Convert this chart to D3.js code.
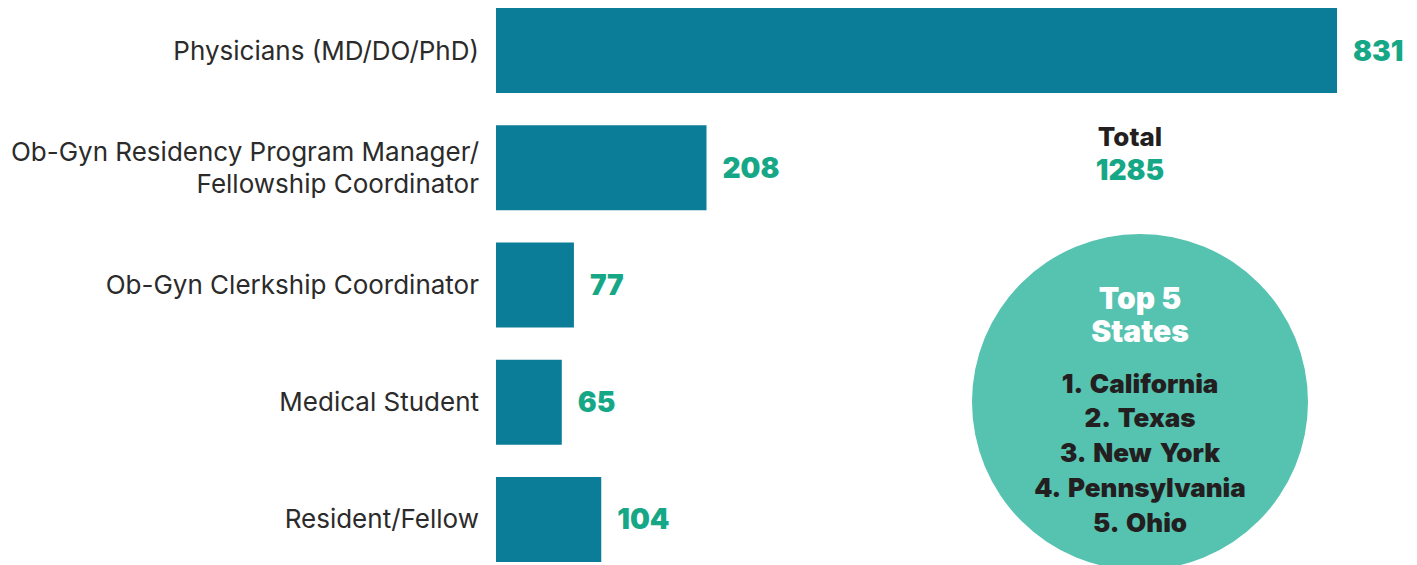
<!DOCTYPE html>
<html>
<head>
<meta charset="utf-8">
<script src="https://cdn.jsdelivr.net/npm/d3@7"></script>
<style>
  body { margin: 0; background: #fff; }
  svg { display: block; font-family: Inter, "Noto Sans", sans-serif; }
</style>
</head>
<body>
<div id="chart"></div>
<script>
// roles and counts
const roles = [
  ["Physicians (MD/DO/PhD)"],
  ["Ob-Gyn Residency Program Manager/", "Fellowship Coordinator"],
  ["Ob-Gyn Clerkship Coordinator"],
  ["Medical Student"],
  ["Resident/Fellow"]
];
const counts = [831, 208, 77, 65, 104];
const total = 1285;
const topStates = ["1. California", "2. Texas", "3. New York", "4. Pennsylvania", "5. Ohio"];

const width = 1417, height = 565;
const barColor = "#0c7d99", valueColor = "#16a886", circleColor = "#56c2b0", ink = "#231f20";

const svg = d3.select("#chart").append("svg")
  .attr("width", width)
  .attr("height", height)
  .attr("viewBox", [0, 0, width, height]);

const x = d3.scaleLinear().domain([0, 831]).range([496, 1337]);
const y = d3.scaleBand().domain(d3.range(roles.length)).range([8, 562])
  .paddingInner(0.275).paddingOuter(0);

const rows = svg.selectAll("g.row")
  .data(counts.map((v, i) => ({v, i, label: roles[i]})))
  .join("g").attr("class", "row");

rows.append("rect")
  .attr("x", x(0))
  .attr("y", d => y(d.i))
  .attr("width", d => x(d.v) - x(0))
  .attr("height", y.bandwidth())
  .attr("fill", barColor);

// category labels, right aligned left of bars
rows.append("text")
  .attr("text-anchor", "end")
  .attr("fill", "#2b2b2b")
  .attr("font-size", 26)
  .each(function(d) {
    const t = d3.select(this);
    const lh = 32;
    const cy = y(d.i) + y.bandwidth() / 2;
    const y0 = cy - (d.label.length - 1) * lh / 2 + 9;
    d.label.forEach((line, k) => {
      t.append("tspan").attr("x", x(0) - 17).attr("y", y0 + k * lh).text(line);
    });
  });

// values
rows.append("text")
  .attr("x", d => x(d.v) + 16)
  .attr("y", d => y(d.i) + y.bandwidth() / 2 + 10)
  .attr("fill", valueColor)
  .attr("font-size", 28)
  .attr("font-weight", 900)
  .text(d => d.v);

// total
svg.append("text")
  .attr("x", 1130).attr("y", 146)
  .attr("text-anchor", "middle")
  .attr("fill", ink).attr("font-size", 26).attr("font-weight", 800)
  .text("Total");
svg.append("text")
  .attr("x", 1130).attr("y", 180)
  .attr("text-anchor", "middle")
  .attr("fill", valueColor).attr("font-size", 28).attr("font-weight", 900)
  .text(total);

// top states circle
const cx = 1140, cy = 402;
svg.append("circle").attr("cx", cx).attr("cy", cy).attr("r", 168).attr("fill", circleColor);

svg.selectAll("text.head")
  .data(["Top 5", "States"])
  .join("text").attr("class", "head")
  .attr("x", cx)
  .attr("y", (d, i) => 309 + i * 33)
  .attr("text-anchor", "middle")
  .attr("fill", "#fff").attr("font-size", 30).attr("font-weight", 900)
  .text(d => d);

svg.selectAll("text.state")
  .data(topStates)
  .join("text").attr("class", "state")
  .attr("x", cx)
  .attr("y", (d, i) => 392.5 + i * 34.8)
  .attr("text-anchor", "middle")
  .attr("fill", ink).attr("font-size", 26).attr("font-weight", 900)
  .attr("word-spacing", 3)
  .text(d => d);
</script>
</body>
</html>
